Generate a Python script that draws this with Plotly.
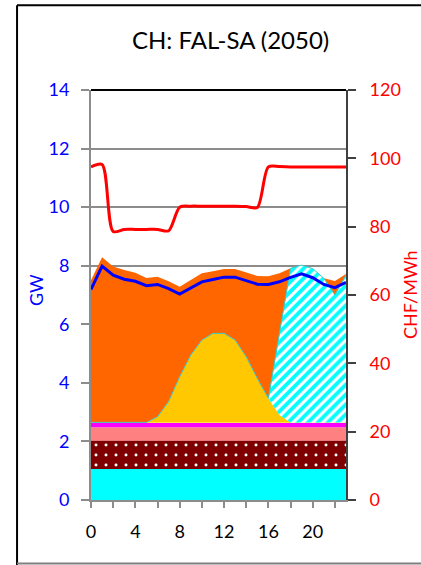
import plotly.graph_objects as go

# Hour of day
hours = list(range(24))

# Stacked generation (GW), listed bottom to top
run_of_river = [1.06, 1.06, 1.06, 1.06, 1.06, 1.06, 1.06, 1.06, 1.06, 1.06, 1.06, 1.06,
                1.06, 1.06, 1.06, 1.06, 1.06, 1.06, 1.06, 1.06, 1.06, 1.06, 1.06, 1.06]
thermal = [0.96, 0.96, 0.96, 0.96, 0.96, 0.96, 0.96, 0.96, 0.96, 0.96, 0.96, 0.96,
           0.96, 0.96, 0.96, 0.96, 0.96, 0.96, 0.96, 0.96, 0.96, 0.96, 0.96, 0.96]
biomass = [0.46, 0.46, 0.46, 0.46, 0.46, 0.46, 0.46, 0.46, 0.46, 0.46, 0.46, 0.46,
           0.46, 0.46, 0.46, 0.46, 0.46, 0.46, 0.46, 0.46, 0.46, 0.46, 0.46, 0.46]
other = [0.15, 0.15, 0.15, 0.15, 0.15, 0.15, 0.15, 0.15, 0.15, 0.15, 0.15, 0.15,
         0.15, 0.15, 0.15, 0.15, 0.15, 0.15, 0.15, 0.15, 0.15, 0.15, 0.15, 0.15]
wind = [0.02, 0.02, 0.02, 0.02, 0.02, 0.02, 0.02, 0.02, 0.02, 0.02, 0.02, 0.02,
        0.02, 0.02, 0.02, 0.02, 0.02, 0.02, 0.02, 0.02, 0.02, 0.02, 0.02, 0.02]
solar = [0.0, 0.0, 0.0, 0.0, 0.0, 0.0, 0.19, 0.71, 1.56, 2.30, 2.81, 3.04,
         3.04, 2.81, 2.24, 1.50, 0.82, 0.25, 0.0, 0.0, 0.0, 0.0, 0.0, 0.0]
imports = [0.0, 0.0, 0.0, 0.0, 0.0, 0.0, 0.0, 0.0, 0.0, 0.0, 0.0, 0.0,
           0.0, 0.0, 0.0, 0.0, 0.0, 2.82, 5.26, 5.37, 5.25, 4.92, 4.35, 5.03]
storage_hydro = [4.85, 5.64, 5.32, 5.20, 5.11, 4.93, 4.78, 4.11, 3.07, 2.56, 2.28, 2.12,
                 2.20, 2.43, 2.89, 3.50, 4.17, 2.02, 0.0, 0.0, 0.0, 0.0, 0.48, 0.04]

# Demand (GW) and price (CHF/MWh)
demand = [7.19, 7.99, 7.68, 7.54, 7.47, 7.32, 7.36, 7.22, 7.03, 7.25, 7.45, 7.53,
          7.61, 7.61, 7.50, 7.37, 7.36, 7.45, 7.60, 7.72, 7.59, 7.36, 7.25, 7.43]
price = [97.5, 98.2, 78.6, 79.2, 79.2, 79.2, 79.2, 78.8, 85.7, 86.0, 86.0, 86.0,
         86.0, 86.0, 85.9, 85.6, 97.5, 97.6, 97.5, 97.5, 97.5, 97.5, 97.5, 97.5]

# Axis ticks
x_tick_vals = [0, 2, 4, 6, 8, 10, 12, 14, 16, 18, 20, 22]
x_tick_text = ["0", "", "4", "", "8", "", "12", "", "16", "", "20", ""]
gw_ticks = [0, 2, 4, 6, 8, 10, 12, 14]
price_ticks = [0, 20, 40, 60, 80, 100, 120]

FONT = "Lato"
GRAY = "#8c8c8c"

fig = go.Figure()


def add_area(name, values, color, pattern=None, line_color=None, line_width=0):
    fig.add_trace(go.Scatter(
        x=hours, y=values, name=name, mode="lines", stackgroup="gen",
        line=dict(width=line_width, color=line_color or color),
        fillcolor=color, fillpattern=pattern, hoverinfo="skip",
    ))


add_area("Laufwasser", run_of_river, "#00ffff")
add_area("Thermisch", thermal, "#7f0000",
         pattern=dict(shape=".", bgcolor="#7f0000", fgcolor="#ffffff",
                      size=10, solidity=0.07, fillmode="replace"))
add_area("Biomasse", biomass, "#ff8080")
add_area("Andere", other, "#ff00ff")
add_area("Wind", wind, "#ffff00")
add_area("Solar", solar, "#ffc800")
add_area("Import", imports, "#00ffff",
         pattern=dict(shape="/", bgcolor="#00ffff", fgcolor="#ffffff",
                      size=7, solidity=0.45, fillmode="replace"),
         line_color="#3cc8c8", line_width=1)
add_area("Speicherwasser", storage_hydro, "#ff6600")

fig.add_trace(go.Scatter(
    x=hours, y=demand, name="Verbrauch", mode="lines",
    line=dict(color="#0000ff", width=3), hoverinfo="skip",
))
fig.add_trace(go.Scatter(
    x=hours, y=price, name="Preis", mode="lines", yaxis="y2",
    line=dict(color="#ff0000", width=3, shape="spline", smoothing=0.8),
    hoverinfo="skip",
))

fig.update_layout(
    width=421, height=565,
    margin=dict(l=91, r=75, t=90, b=65, pad=0),
    paper_bgcolor="white", plot_bgcolor="white",
    showlegend=False,
    font=dict(family=FONT, size=18),
    xaxis=dict(
        range=[0, 23], tickmode="array", tickvals=x_tick_vals, ticktext=x_tick_text,
        ticks="outside", ticklen=6, tickwidth=2, tickcolor=GRAY,
        showline=True, linecolor=GRAY, linewidth=2,
        showgrid=False, zeroline=False, ticklabelstandoff=8,
        tickfont=dict(family=FONT, size=18, color="black"),
    ),
    yaxis=dict(
        range=[0, 14], tickmode="array", tickvals=gw_ticks,
        ticks="outside", ticklen=8, tickwidth=2, tickcolor=GRAY,
        showline=True, linecolor=GRAY, linewidth=2,
        showgrid=True, gridcolor=GRAY, gridwidth=2, zeroline=False,
        ticklabelstandoff=8,
        tickfont=dict(family=FONT, size=18, color="#0000ff"),
    ),
    yaxis2=dict(
        overlaying="y", side="right",
        range=[0, 120], tickmode="array", tickvals=price_ticks,
        ticks="outside", ticklen=8, tickwidth=2, tickcolor="#404040",
        showline=True, linecolor="#404040", linewidth=2,
        showgrid=False, zeroline=False, ticklabelstandoff=10,
        tickfont=dict(family=FONT, size=18, color="#ff0000"),
    ),
    annotations=[
        dict(text="CH: FAL-SA (2050)", xref="paper", yref="paper",
             x=0.548, y=1.124, xanchor="center", yanchor="middle",
             showarrow=False, font=dict(family=FONT, size=24, color="black")),
        dict(text="GW", xref="paper", yref="paper", x=-0.216, y=0.512,
             xanchor="center", yanchor="middle", textangle=-90,
             showarrow=False, font=dict(family=FONT, size=18, color="#0000ff")),
        dict(text="CHF/MWh", xref="paper", yref="paper", x=1.251, y=0.5,
             xanchor="center", yanchor="middle", textangle=-90,
             showarrow=False, font=dict(family=FONT, size=18, color="#ff0000")),
    ],
    shapes=[
        # plot-area top border
        dict(type="line", xref="paper", yref="paper", x0=0, x1=1, y0=1, y1=1,
             line=dict(color="black", width=2), layer="above"),
        # outer chart frame
        dict(type="line", xref="paper", yref="paper", x0=-0.29, x1=-0.29,
             y0=-0.2, y1=1.207, line=dict(color="black", width=2)),
        dict(type="line", xref="paper", yref="paper", x0=-0.29, x1=1.4,
             y0=1.207, y1=1.207, line=dict(color="black", width=2)),
        dict(type="line", xref="paper", yref="paper", x0=-0.29, x1=1.4,
             y0=-0.155, y1=-0.155, line=dict(color="#7f7f7f", width=2)),
    ],
)

fig.write_html("out.html")
